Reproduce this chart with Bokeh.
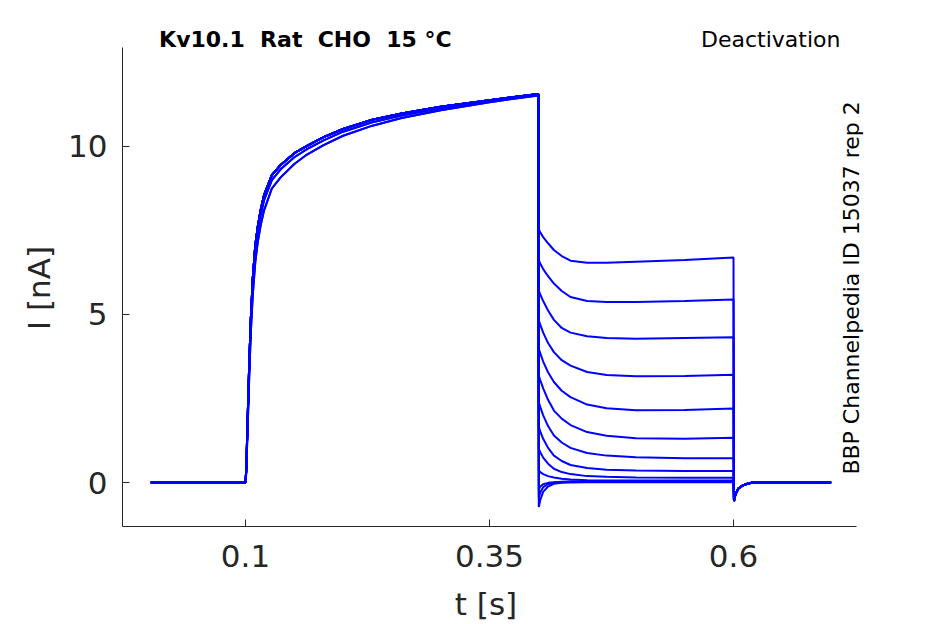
import math
from bokeh.plotting import figure
from bokeh.models import Range1d, FixedTicker, Label, ColumnDataSource
from bokeh.embed import file_html
from bokeh.resources import INLINE

# ---------------- data ----------------
t_base = [0.003, 0.1]
i_base = [0.0, 0.0]

t_act = [0.1, 0.1008, 0.102, 0.104, 0.1055, 0.1075, 0.11, 0.1125, 0.1155, 0.119,
         0.127, 0.136, 0.15, 0.163, 0.18, 0.2, 0.23, 0.26, 0.3, 0.35, 0.4]
act_high = [0.0, 0.4, 1.7, 3.7, 4.9, 6.1, 7.05, 7.6, 8.1, 8.55,
            9.15, 9.45, 9.8, 10.02, 10.28, 10.52, 10.8, 10.98, 11.18, 11.38, 11.56]
act_mid = [0.0, 0.35, 1.6, 3.55, 4.75, 5.9, 6.85, 7.45, 7.95, 8.4,
           9.0, 9.32, 9.68, 9.92, 10.18, 10.44, 10.72, 10.92, 11.14, 11.36, 11.54]
act_low = [0.0, 0.3, 1.45, 3.3, 4.5, 5.6, 6.55, 7.15, 7.65, 8.1,
           8.75, 9.08, 9.48, 9.76, 10.04, 10.32, 10.62, 10.85, 11.08, 11.32, 11.52]

t_tail = [0.4005, 0.402, 0.405, 0.41, 0.416, 0.424, 0.433, 0.45, 0.47, 0.5, 0.55, 0.6]
tail_1 = [7.53, 7.45, 7.30, 7.12, 6.92, 6.74, 6.60, 6.54, 6.54, 6.57, 6.62, 6.70]
tail_2 = [6.61, 6.52, 6.35, 6.14, 5.92, 5.70, 5.52, 5.40, 5.37, 5.37, 5.40, 5.45]
tail_3 = [5.71, 5.60, 5.40, 5.12, 4.84, 4.60, 4.46, 4.35, 4.30, 4.28, 4.30, 4.32]
tail_4 = [4.82, 4.70, 4.46, 4.15, 3.88, 3.64, 3.48, 3.29, 3.20, 3.16, 3.17, 3.21]
tail_5 = [3.98, 3.85, 3.60, 3.28, 2.99, 2.73, 2.54, 2.32, 2.21, 2.15, 2.16, 2.20]
tail_6 = [3.18, 3.05, 2.80, 2.46, 2.14, 1.90, 1.71, 1.50, 1.39, 1.32, 1.30, 1.33]
tail_7 = [2.39, 2.25, 2.00, 1.68, 1.40, 1.19, 1.03, 0.88, 0.80, 0.75, 0.72, 0.72]
tail_8 = [1.65, 1.52, 1.30, 1.03, 0.80, 0.64, 0.52, 0.43, 0.38, 0.36, 0.34, 0.34]
tail_9 = [1.00, 0.90, 0.74, 0.56, 0.41, 0.31, 0.25, 0.19, 0.17, 0.15, 0.14, 0.14]
tail_10 = [0.36, 0.31, 0.25, 0.19, 0.15, 0.11, 0.09, 0.07, 0.06, 0.06, 0.06, 0.06]
tail_11 = [-0.22, -0.12, -0.05, -0.01, 0.01, 0.02, 0.03, 0.03, 0.03, 0.03, 0.03, 0.03]
tail_12 = [-0.45, -0.30, -0.14, -0.05, -0.01, 0.01, 0.02, 0.02, 0.02, 0.02, 0.02, 0.02]
tail_13 = [-0.73, -0.52, -0.28, -0.12, -0.04, -0.01, 0.00, 0.01, 0.01, 0.01, 0.01, 0.01]

t_off = [0.6005, 0.602, 0.605, 0.61, 0.615, 0.62, 0.7]
i_off = [-0.55, -0.35, -0.18, -0.08, -0.03, 0.0, 0.0]

tails = [tail_1, tail_2, tail_3, tail_4, tail_5, tail_6, tail_7,
         tail_8, tail_9, tail_10, tail_11, tail_12, tail_13]
act_of_sweep = ["high", "high", "low", "high", "mid", "high", "low",
                "high", "high", "mid", "high", "high", "high"]

x_ticks = [0.1, 0.35, 0.6]
x_tick_labels = ["0.1", "0.35", "0.6"]
y_ticks = [0, 5, 10]
y_tick_labels = ["0", "5", "10"]
x_limits = (-0.026, 0.726)
y_limits = (-1.31, 12.95)

title_left = "Kv10.1 \u00a0Rat \u00a0CHO \u00a015 °C"
title_right = "Deactivation"
side_text = "BBP Channelpedia ID 15037 rep 2"
x_label = "t [s]"
y_label = "I [nA]"

# ---------------- build sweeps ----------------
acts = {"high": act_high, "mid": act_mid, "low": act_low}
xs, ys = [], []
for tail, a in zip(tails, act_of_sweep):
    xs.append(t_base + t_act + t_tail + t_off)
    ys.append(i_base + acts[a] + tail + i_off)

src = ColumnDataSource(dict(xs=xs, ys=ys))

FONT = "DejaVu Sans"
GREY = "#262626"

# frame covers the whole canvas; axes are pinned at the data limits
p = figure(width=945, height=624,
           x_range=Range1d(-0.15102, 0.81721), y_range=Range1d(-4.226, 14.345),
           output_backend="svg", toolbar_location=None, min_border=0)
p.outline_line_color = None
p.xgrid.visible = False
p.ygrid.visible = False
p.background_fill_color = "white"
p.border_fill_color = "white"

p.multi_line(xs="xs", ys="ys", source=src, line_color="#0000ff", line_width=2)

p.xaxis[0].fixed_location = y_limits[0]
p.xaxis[0].bounds = x_limits
p.yaxis[0].fixed_location = x_limits[0]
p.yaxis[0].bounds = y_limits

for ax, ticks, labels in ((p.xaxis[0], x_ticks, x_tick_labels),
                          (p.yaxis[0], y_ticks, y_tick_labels)):
    ax.ticker = FixedTicker(ticks=ticks)
    ax.major_label_overrides = {k: v for k, v in zip(ticks, labels)}
    ax.minor_tick_line_color = None
    ax.major_tick_in = 7
    ax.major_tick_out = 0
    ax.axis_line_color = GREY
    ax.major_tick_line_color = GREY
    ax.axis_line_width = 1
    ax.major_label_text_font = FONT
    ax.major_label_text_font_size = "31px"
    ax.major_label_text_color = GREY

p.yaxis.major_label_standoff = 15
p.xaxis.major_label_standoff = 18

p.add_layout(Label(x=0.0115, y=13.19, text=title_left, text_font=FONT,
                   text_font_size="22px", text_font_style="bold", text_color="black",
                   text_align="left", text_baseline="alphabetic"))
p.add_layout(Label(x=0.7096, y=13.19, text=title_right, text_font=FONT,
                   text_font_size="22px", text_color="black",
                   text_align="right", text_baseline="alphabetic"))
p.add_layout(Label(x=0.7209, y=5.79, text=side_text, text_font=FONT,
                   text_font_size="22px", text_color="black", angle=math.pi / 2,
                   text_align="center", text_baseline="middle"))
p.add_layout(Label(x=0.3464, y=-3.63, text=x_label, text_font=FONT,
                   text_font_size="31px", text_color=GREY,
                   text_align="center", text_baseline="middle"))
p.add_layout(Label(x=-0.1111, y=5.79, text=y_label, text_font=FONT,
                   text_font_size="31px", text_color=GREY, angle=math.pi / 2,
                   text_align="center", text_baseline="middle"))

open("out.html", "w").write(file_html(p, INLINE))
